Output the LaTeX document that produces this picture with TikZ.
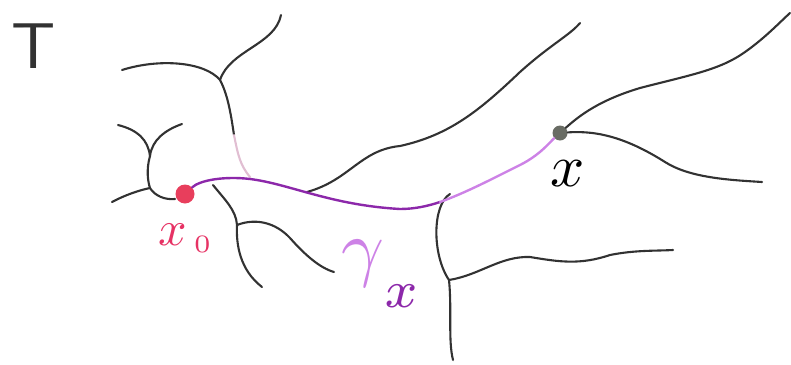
\documentclass[tikz,border=0pt]{standalone}
\usepackage{tikz}
\definecolor{pencil}{RGB}{50,50,50}
\definecolor{palepink}{RGB}{225,190,210}
\definecolor{dotred}{RGB}{232,62,92}
\definecolor{dotgray}{RGB}{105,108,100}
\definecolor{pdark}{RGB}{140,40,170}
\definecolor{plight}{RGB}{205,130,230}
\definecolor{lblred}{RGB}{230,50,100}
\begin{document}
\begin{tikzpicture}[x=1pt,y=-1pt,
  branch/.style={draw=pencil,line width=2.1pt,line cap=round},
  faint/.style={draw=palepink,line width=2.1pt,line cap=round},
  pathd/.style={draw=pdark,line width=2.4pt,line cap=round},
  pathl/.style={draw=plight,line width=2.4pt,line cap=round},
  dot/.style={circle,inner sep=0pt,minimum size=#1}]
\useasboundingbox (0,0) rectangle (791,364);
% labels
\node[text=pencil,inner sep=0pt] (T) at (34,46) {\scalebox{6.5}{\sffamily T}};
\node[text=lblred,inner sep=0pt] (lx0) at (186,238) {\scalebox{5}{$x_{\,\scriptscriptstyle 0}$}};
\node[text=black,inner sep=0pt] (lx) at (568,174) {\scalebox{6}{$x$}};
\node[inner sep=0pt] (lg) at (382,274) {\scalebox{7.5}{$\textcolor{plight}{\gamma}_{\lower3.2pt\hbox{$\scriptstyle\textcolor{pdark}{x}$}}$}};
% junction coordinates
\coordinate (ja) at (220,80);
\coordinate (jb) at (250,177);
\coordinate (jc) at (307,192);
\coordinate (jd) at (213,185);
\coordinate (je) at (237,225);
\coordinate (jf) at (450,194);
\coordinate (jg) at (449,280);
\coordinate (jy) at (150,156);
\coordinate (jz) at (150,188);
% dots
\node[dot=19pt,fill=dotred] (x0) at (185,194) {};
\node[dot=15pt,fill=dotgray] (x) at (560,133) {};
% tree branches
\draw[branch] (122,70) .. controls (160,58) and (205,62) .. (ja);
\draw[branch] (ja) .. controls (230,50) and (275,45) .. (281,15);
\draw[branch] (ja) .. controls (228,95) and (231,115) .. (234,135);
\draw[faint] (234,135) .. controls (238,155) and (240,165) .. (jb);
\draw[branch] (jc) .. controls (350,180) and (360,150) .. (400,146)
  .. controls (450,135) and (480,110) .. (520,72)
  .. controls (550,45) and (570,35) .. (580,23);
\draw[branch] (jd) .. controls (225,200) and (236,210) .. (je)
  .. controls (236,245) and (240,270) .. (262,287);
\draw[branch] (je) .. controls (255,218) and (275,222) .. (290,238)
  .. controls (305,255) and (320,268) .. (334,272);
\draw[branch] (jf) .. controls (432,205) and (432,255) .. (jg)
  .. controls (452,310) and (448,340) .. (453,360);
\draw[branch] (jg) .. controls (480,275) and (500,256) .. (530,257)
  .. controls (560,262) and (580,265) .. (610,255)
  .. controls (635,250) and (655,251) .. (673,250);
\draw[branch] (x) .. controls (580,115) and (600,100) .. (640,88)
  .. controls (690,75) and (720,70) .. (745,52)
  .. controls (765,38) and (780,22) .. (790,13);
\draw[branch] (x) .. controls (600,130) and (630,140) .. (665,162)
  .. controls (690,178) and (730,180) .. (762,182);
% Y shape near x0
\draw[branch] (118,125) .. controls (138,130) and (148,140) .. (jy);
\draw[branch] (182,124) .. controls (165,130) and (152,140) .. (jy);
\draw[branch] (jy) .. controls (146,170) and (148,182) .. (jz)
  .. controls (155,196) and (165,200) .. (175,199);
\draw[branch] (112,202) .. controls (125,195) and (140,190) .. (jz);
% path gamma_x
\draw[pathd] (x0) .. controls (200,180) and (225,176) .. (250,179)
  .. controls (290,184) and (330,205) .. (400,209)
  .. controls (415,209) and (428,206) .. (440,202);
\draw[pathl] (440,202) .. controls (465,193) and (490,180) .. (520,165)
  .. controls (540,155) and (550,142) .. (x);
\end{tikzpicture}
\end{document}
